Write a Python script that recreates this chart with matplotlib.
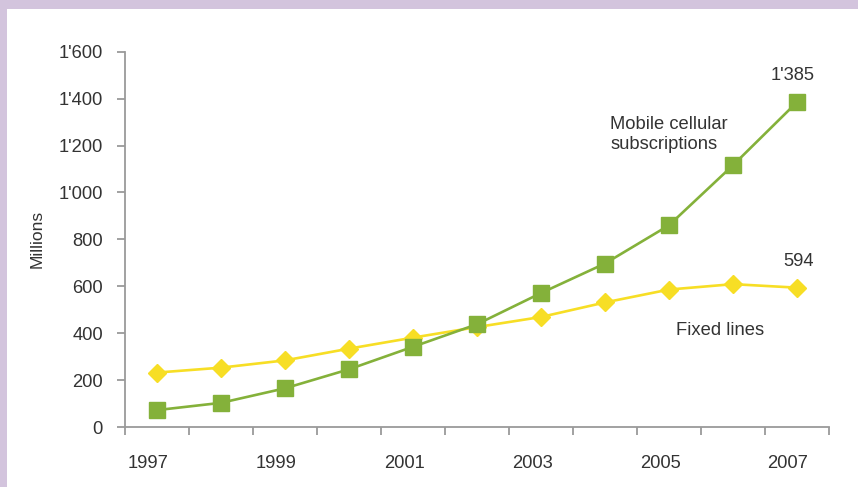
import matplotlib
matplotlib.use("Agg")
import matplotlib.pyplot as plt
from matplotlib.patches import Rectangle
import matplotlib.font_manager as fm

years = list(range(1997, 2008))
mobile = [72, 103, 165, 246, 342, 438, 571, 697, 860, 1116, 1385]
fixed = [232, 253, 284, 334, 381, 426, 469, 531, 586, 609, 594]
y_ticks = [0, 200, 400, 600, 800, 1000, 1200, 1400, 1600]
y_tick_labels = ["0", "200", "400", "600", "800", "1'000", "1'200", "1'400", "1'600"]

names = {f.name for f in fm.fontManager.ttflist}
family = ["Liberation Sans Narrow"] if "Liberation Sans Narrow" in names else ["Liberation Sans"]
plt.rcParams["font.family"] = family + ["DejaVu Sans"]
fs = 15 if family[0].endswith("Narrow") else 13.2

text_color = "#333333"
green = "#84B13A"
yellow = "#F7DE25"
spine_color = "#9A9A9A"

fig = plt.figure(figsize=(8.58, 4.87), dpi=100)
fig.patch.set_facecolor("white")
# lavender frame along the top and left edges
fig.patches.append(Rectangle((0, 1 - 9 / 487), 1, 9 / 487, transform=fig.transFigure,
                             facecolor="#D3C4DD", edgecolor="none", zorder=0))
fig.patches.append(Rectangle((0, 0), 7 / 858, 1, transform=fig.transFigure,
                             facecolor="#D3C4DD", edgecolor="none", zorder=0))

ax = fig.add_axes([125 / 858, 1 - 427 / 487, (829 - 125) / 858, (427 - 51.7) / 487])
ax.set_facecolor("none")
x = list(range(len(years)))

ax.plot(x, fixed, color=yellow, lw=1.9, marker="D", markersize=9.5,
        markerfacecolor=yellow, markeredgecolor=yellow, zorder=3)
ax.plot(x, mobile, color=green, lw=1.9, marker="s", markersize=11,
        markerfacecolor=green, markeredgecolor=green, zorder=4)

ax.set_xlim(-0.5, len(years) - 0.5)
ax.set_ylim(0, 1600)
ax.set_yticks(y_ticks)
ax.set_yticklabels(y_tick_labels)
ax.set_xticks([i - 0.5 for i in range(len(years) + 1)])
ax.set_xticklabels([])
for i, yr in enumerate(years):
    if yr % 2 == 1:
        ax.text(i - 0.14, -0.075, str(yr), transform=ax.get_xaxis_transform(),
                ha="center", va="top", fontsize=fs, color=text_color)

for side in ("top", "right"):
    ax.spines[side].set_visible(False)
for side in ("left", "bottom"):
    ax.spines[side].set_color(spine_color)
    ax.spines[side].set_linewidth(1.3)
ax.tick_params(axis="both", colors=spine_color, width=1.3, length=6,
               labelcolor=text_color, labelsize=fs)
ax.tick_params(axis="y", pad=10)

ax.set_ylabel("Millions", fontsize=12.5, color=text_color, labelpad=10)

ax.annotate("1'385", (x[-1], mobile[-1]), xytext=(-3, 13), textcoords="offset points",
            ha="center", va="bottom", fontsize=fs, color=text_color)
ax.annotate("594", (x[-1], fixed[-1]), xytext=(1, 13), textcoords="offset points",
            ha="center", va="bottom", fontsize=fs, color=text_color)
ax.text(7.08, 1247, "Mobile cellular\nsubscriptions", ha="left", va="center",
        fontsize=fs, color=text_color, linespacing=1.2)
ax.text(8.11, 410, "Fixed lines", ha="left", va="center", fontsize=fs, color=text_color)

fig.savefig("out.png", dpi=100)
